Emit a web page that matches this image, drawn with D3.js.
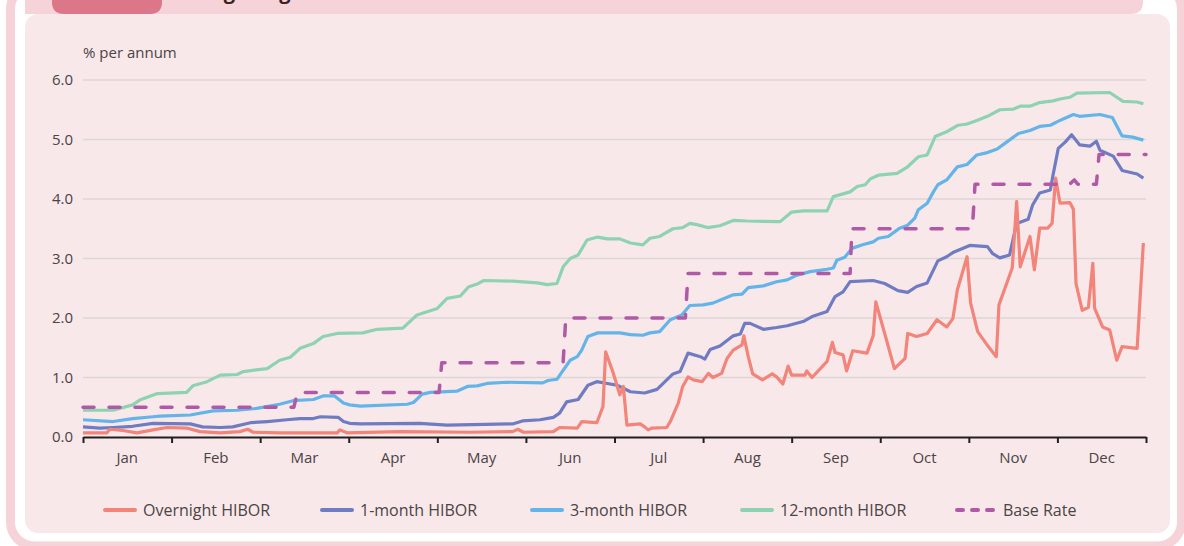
<!DOCTYPE html>
<html>
<head>
<meta charset="utf-8">
<script src="https://cdn.jsdelivr.net/npm/d3@7/dist/d3.min.js"></script>
<style>
  html, body { margin: 0; padding: 0; background: #ffffff; }
  svg { display: block; font-family: "Open Sans", "Noto Sans", sans-serif; }
  .tick-label { fill: #4a4445; font-size: 15px; }
  .legend-text { fill: #4a4445; font-size: 16px; }
</style>
</head>
<body>
<svg id="chart" width="1184" height="546"></svg>
<script>
// month position (0 = start of Jan, 12 = end of Dec), % per annum
const MONTHS = ["Jan", "Feb", "Mar", "Apr", "May", "Jun", "Jul", "Aug", "Sep", "Oct", "Nov", "Dec"];
const Y_TICKS = [0, 1, 2, 3, 4, 5, 6];

const overnight = [
  [0, 0.07], [0.27, 0.07], [0.30, 0.13], [0.45, 0.11], [0.61, 0.07], [0.79, 0.12], [0.95, 0.16],
  [1.17, 0.15], [1.32, 0.09], [1.55, 0.07], [1.77, 0.09], [1.86, 0.13], [1.92, 0.08], [2.22, 0.07],
  [2.87, 0.07], [2.90, 0.12], [2.98, 0.07], [3.58, 0.09], [4.37, 0.08], [4.85, 0.09], [4.91, 0.13],
  [4.97, 0.08], [5.31, 0.09], [5.38, 0.16], [5.58, 0.15], [5.63, 0.26], [5.80, 0.24], [5.87, 0.51],
  [5.90, 1.43], [5.98, 1.10], [6.06, 0.71], [6.10, 0.85], [6.14, 0.20], [6.29, 0.22], [6.34, 0.17],
  [6.38, 0.12], [6.42, 0.15], [6.59, 0.16], [6.63, 0.26], [6.72, 0.57], [6.77, 0.85], [6.83, 1.01],
  [6.89, 0.96], [6.99, 0.93], [7.06, 1.07], [7.11, 1.00], [7.21, 1.07], [7.27, 1.32], [7.34, 1.46],
  [7.44, 1.55], [7.46, 1.70], [7.51, 1.35], [7.56, 1.06], [7.67, 0.96], [7.78, 1.06], [7.83, 1.01],
  [7.90, 0.89], [7.96, 1.19], [8.00, 1.04], [8.15, 1.04], [8.17, 1.11], [8.23, 1.00], [8.40, 1.27],
  [8.46, 1.59], [8.49, 1.42], [8.58, 1.38], [8.62, 1.11], [8.69, 1.45], [8.85, 1.41], [8.92, 1.70],
  [8.95, 2.27], [9.05, 1.74], [9.16, 1.15], [9.28, 1.32], [9.31, 1.74], [9.41, 1.69], [9.53, 1.74],
  [9.64, 1.97], [9.75, 1.85], [9.82, 1.99], [9.87, 2.47], [9.98, 3.03], [10.02, 2.25], [10.10, 1.77],
  [10.22, 1.52], [10.31, 1.35], [10.34, 2.22], [10.49, 2.84], [10.54, 3.96], [10.58, 2.86],
  [10.69, 3.37], [10.74, 2.81], [10.80, 3.51], [10.89, 3.51], [10.94, 3.59], [10.98, 4.35],
  [11.03, 3.93], [11.14, 3.94], [11.18, 3.83], [11.21, 2.58], [11.28, 2.13], [11.35, 2.18],
  [11.40, 2.92], [11.42, 2.16], [11.51, 1.85], [11.59, 1.80], [11.67, 1.29], [11.73, 1.52],
  [11.90, 1.49], [11.97, 3.26]
];

const oneMonth = [
  [0, 0.17], [0.19, 0.15], [0.34, 0.16], [0.56, 0.18], [0.79, 0.23], [1.21, 0.22], [1.35, 0.17],
  [1.55, 0.16], [1.69, 0.17], [1.89, 0.24], [2.08, 0.26], [2.30, 0.29], [2.45, 0.31], [2.60, 0.31],
  [2.68, 0.34], [2.88, 0.33], [2.94, 0.26], [3.01, 0.23], [3.13, 0.22], [3.80, 0.23], [4.11, 0.20],
  [4.85, 0.22], [4.96, 0.27], [5.16, 0.29], [5.31, 0.33], [5.38, 0.40], [5.46, 0.59], [5.59, 0.63],
  [5.70, 0.87], [5.80, 0.93], [6.03, 0.87], [6.10, 0.82], [6.18, 0.76], [6.34, 0.74], [6.48, 0.80],
  [6.57, 0.93], [6.66, 1.06], [6.74, 1.10], [6.83, 1.41], [6.97, 1.35], [7.02, 1.31], [7.08, 1.47],
  [7.19, 1.53], [7.34, 1.70], [7.42, 1.73], [7.47, 1.91], [7.53, 1.91], [7.68, 1.81], [7.83, 1.84],
  [7.95, 1.87], [8.13, 1.94], [8.24, 2.03], [8.40, 2.11], [8.49, 2.36], [8.58, 2.44], [8.66, 2.61],
  [8.92, 2.63], [9.05, 2.58], [9.20, 2.46], [9.31, 2.43], [9.41, 2.53], [9.53, 2.59], [9.65, 2.96],
  [9.75, 3.03], [9.82, 3.10], [10.01, 3.22], [10.21, 3.20], [10.27, 3.08], [10.35, 3.01],
  [10.46, 3.06], [10.54, 3.59], [10.67, 3.66], [10.72, 3.90], [10.80, 4.10], [10.92, 4.15],
  [10.95, 4.40], [11.01, 4.85], [11.09, 4.96], [11.16, 5.08], [11.25, 4.91], [11.37, 4.89],
  [11.44, 4.97], [11.48, 4.82], [11.63, 4.72], [11.73, 4.48], [11.90, 4.42], [11.97, 4.35]
];

const threeMonth = [
  [0, 0.29], [0.34, 0.26], [0.56, 0.31], [0.79, 0.34], [0.87, 0.35], [1.21, 0.37], [1.47, 0.44],
  [1.74, 0.45], [1.96, 0.48], [2.22, 0.55], [2.37, 0.61], [2.60, 0.63], [2.71, 0.69], [2.84, 0.69],
  [2.94, 0.57], [3.01, 0.54], [3.13, 0.52], [3.66, 0.55], [3.73, 0.58], [3.83, 0.72], [3.92, 0.75],
  [4.22, 0.77], [4.34, 0.85], [4.45, 0.86], [4.56, 0.90], [4.79, 0.92], [5.19, 0.91], [5.25, 0.95],
  [5.35, 0.97], [5.41, 1.10], [5.50, 1.29], [5.58, 1.35], [5.63, 1.46], [5.70, 1.69], [5.81, 1.75],
  [6.06, 1.75], [6.18, 1.72], [6.32, 1.71], [6.40, 1.75], [6.51, 1.77], [6.63, 1.97], [6.76, 2.05],
  [6.85, 2.21], [7.00, 2.22], [7.11, 2.25], [7.34, 2.39], [7.44, 2.40], [7.51, 2.51], [7.68, 2.54],
  [7.83, 2.61], [7.95, 2.64], [8.06, 2.72], [8.21, 2.78], [8.40, 2.82], [8.47, 2.84], [8.51, 2.97],
  [8.60, 3.02], [8.68, 3.17], [8.80, 3.23], [8.92, 3.28], [8.98, 3.34], [9.09, 3.37], [9.22, 3.51],
  [9.31, 3.56], [9.39, 3.68], [9.43, 3.82], [9.53, 3.93], [9.60, 4.12], [9.65, 4.24], [9.75, 4.32],
  [9.87, 4.54], [9.98, 4.58], [10.09, 4.74], [10.21, 4.78], [10.32, 4.84], [10.43, 4.96],
  [10.56, 5.10], [10.69, 5.15], [10.80, 5.22], [10.92, 5.24], [11.00, 5.30], [11.09, 5.36],
  [11.18, 5.42], [11.25, 5.39], [11.48, 5.42], [11.62, 5.37], [11.73, 5.06], [11.85, 5.04],
  [11.97, 4.99]
];

const twelveMonth = [
  [0, 0.45], [0.34, 0.45], [0.56, 0.54], [0.64, 0.62], [0.84, 0.73], [1.17, 0.75], [1.24, 0.86],
  [1.40, 0.93], [1.55, 1.04], [1.74, 1.05], [1.81, 1.10], [2.08, 1.15], [2.22, 1.29], [2.34, 1.34],
  [2.45, 1.49], [2.60, 1.57], [2.71, 1.69], [2.87, 1.74], [3.16, 1.75], [3.32, 1.81], [3.61, 1.83],
  [3.77, 2.05], [4.00, 2.16], [4.11, 2.33], [4.26, 2.37], [4.35, 2.52], [4.45, 2.57], [4.52, 2.63],
  [4.85, 2.62], [5.13, 2.59], [5.24, 2.56], [5.35, 2.58], [5.42, 2.86], [5.50, 3.00], [5.59, 3.06],
  [5.69, 3.31], [5.81, 3.36], [5.92, 3.33], [6.06, 3.33], [6.18, 3.26], [6.32, 3.23], [6.40, 3.34],
  [6.51, 3.37], [6.66, 3.50], [6.77, 3.52], [6.85, 3.59], [6.93, 3.57], [7.05, 3.52], [7.19, 3.55],
  [7.34, 3.64], [7.50, 3.63], [7.87, 3.62], [8.00, 3.78], [8.13, 3.80], [8.40, 3.80], [8.47, 4.04],
  [8.66, 4.12], [8.74, 4.21], [8.83, 4.24], [8.89, 4.34], [8.98, 4.40], [9.19, 4.43], [9.30, 4.53],
  [9.43, 4.71], [9.53, 4.74], [9.62, 5.05], [9.75, 5.13], [9.88, 5.24], [9.98, 5.26], [10.09, 5.32],
  [10.21, 5.39], [10.35, 5.50], [10.50, 5.51], [10.58, 5.56], [10.69, 5.56], [10.80, 5.62],
  [10.95, 5.65], [11.03, 5.68], [11.14, 5.71], [11.22, 5.78], [11.59, 5.79], [11.74, 5.64],
  [11.90, 5.63], [11.97, 5.60]
];

const baseRate = [
  [0, 0.5], [2.38, 0.5], [2.42, 0.75], [4.02, 0.75], [4.05, 1.25], [5.42, 1.25], [5.45, 2.0],
  [6.80, 2.0], [6.83, 2.75], [8.66, 2.75], [8.68, 3.5], [10.04, 3.5], [10.07, 4.25], [11.14, 4.25],
  [11.19, 4.32], [11.23, 4.25], [11.44, 4.25], [11.47, 4.75], [12, 4.75]
];

const SERIES = [
  { name: "Overnight HIBOR", data: overnight, color: "#f2847a", dashed: false },
  { name: "1-month HIBOR", data: oneMonth, color: "#6f7cc2", dashed: false },
  { name: "3-month HIBOR", data: threeMonth, color: "#63b4e8", dashed: false },
  { name: "12-month HIBOR", data: twelveMonth, color: "#8dd3b1", dashed: false },
  { name: "Base Rate", data: baseRate, color: "#b05aa7", dashed: true }
];

const svg = d3.select("#chart");

// ---- frame ----
svg.append("rect")
   .attr("x", 10.5).attr("y", -15)
   .attr("width", 1171).attr("height", 561)
   .attr("rx", 24)
   .attr("fill", "#ffffff")
   .attr("stroke", "#f6d3d8")
   .attr("stroke-width", 9);

svg.append("path")
   .attr("d", "M25,-20 H1143 V2 Q1143,14 1131,14 H25 Z")
   .attr("fill", "#f6d3d8");

svg.append("rect")
   .attr("x", 25).attr("y", 14)
   .attr("width", 1145).attr("height", 519)
   .attr("rx", 13)
   .attr("fill", "#f9e8ea");

svg.append("path")
   .attr("d", "M52,-20 H162 V2 Q162,14 150,14 H64 Q52,14 52,2 Z")
   .attr("fill", "#db7789");

svg.append("text")
   .attr("x", 183).attr("y", -1)
   .attr("font-size", "20px")
   .attr("font-weight", "bold")
   .attr("fill", "#3b2224")
   .text("Hong Kong dollar interbank interest rates");

// ---- scales ----
const x = d3.scaleLinear().domain([0, 12]).range([83, 1146]);
const y = d3.scaleLinear().domain([0, 6]).range([437, 80]);

// grid
svg.append("g")
   .selectAll("line")
   .data(Y_TICKS.filter(d => d > 0))
   .enter()
   .append("line")
   .attr("x1", x(0)).attr("x2", x(12))
   .attr("y1", d => y(d)).attr("y2", d => y(d))
   .attr("stroke", "#dcd6d7")
   .attr("stroke-width", 1.5);

// y labels
svg.append("g")
   .selectAll("text")
   .data(Y_TICKS)
   .enter()
   .append("text")
   .attr("class", "tick-label")
   .attr("x", 73)
   .attr("y", d => y(d) + 5)
   .attr("text-anchor", "end")
   .text(d => d.toFixed(1));

svg.append("text")
   .attr("class", "tick-label")
   .attr("x", 83).attr("y", 58)
   .text("% per annum");

// ---- lines ----
const line = d3.line()
   .x(d => x(d[0]))
   .y(d => y(d[1]));

const drawOrder = [3, 2, 1, 0, 4];
svg.append("g")
   .selectAll("path")
   .data(drawOrder.map(i => SERIES[i]))
   .enter()
   .append("path")
   .attr("d", d => line(d.data))
   .attr("fill", "none")
   .attr("stroke", d => d.color)
   .attr("stroke-width", d => d.dashed ? 3.5 : 3.2)
   .attr("stroke-linejoin", "round")
   .attr("stroke-linecap", d => d.dashed ? "round" : "butt")
   .attr("stroke-dasharray", d => d.dashed ? "11,15" : null);

// ---- x axis ----
const xAxis = svg.append("g")
   .attr("transform", `translate(0,${y(0)})`)
   .call(d3.axisBottom(x).tickValues(d3.range(13)).tickSize(6).tickSizeOuter(0).tickFormat(""));
xAxis.select(".domain").attr("stroke", "#231f20").attr("stroke-width", 2);
xAxis.selectAll(".tick line").attr("stroke", "#231f20").attr("stroke-width", 2);

svg.append("g")
   .selectAll("text")
   .data(MONTHS)
   .enter()
   .append("text")
   .attr("class", "tick-label")
   .attr("x", (d, i) => x(i + 0.5))
   .attr("y", 463)
   .attr("text-anchor", "middle")
   .text(d => d);

// ---- legend ----
const LEGEND_X = [105, 322, 532, 742, 957];
const legend = svg.append("g")
   .selectAll("g")
   .data(SERIES)
   .enter()
   .append("g")
   .attr("transform", (d, i) => `translate(${LEGEND_X[i]},510)`);

legend.append("line")
   .attr("x1", 0).attr("x2", d => d.dashed ? 41 : 30)
   .attr("y1", 0).attr("y2", 0)
   .attr("stroke", d => d.color)
   .attr("stroke-width", 4)
   .attr("stroke-linecap", "round")
   .attr("stroke-dasharray", d => d.dashed ? "6,9" : null);

legend.append("text")
   .attr("class", "legend-text")
   .attr("x", d => d.dashed ? 46 : 38)
   .attr("y", 6)
   .text(d => d.name);
</script>
</body>
</html>
